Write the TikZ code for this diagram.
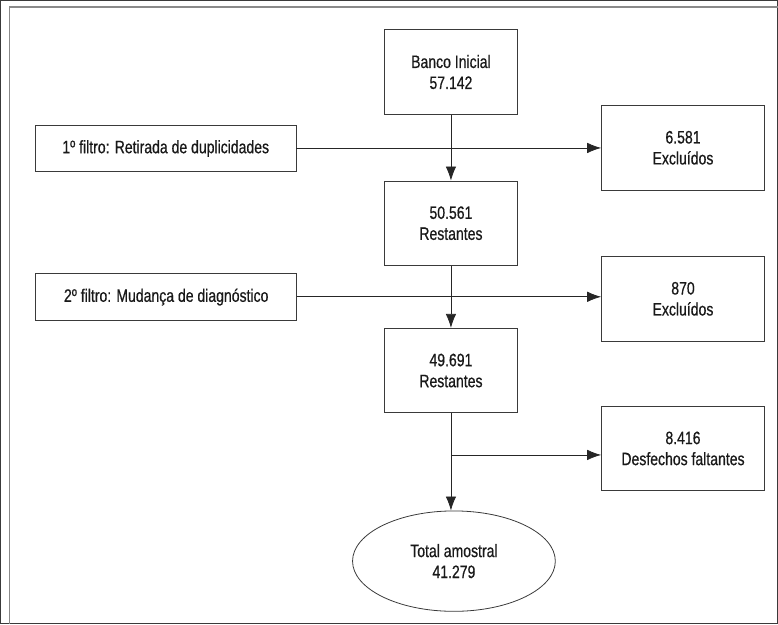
\documentclass[tikz,border=0pt]{standalone}
\usepackage{fontspec}
\setmainfont{Liberation Sans}[FakeStretch=0.78, FakeBold=0.6]
\usetikzlibrary{arrows.meta,shapes.geometric}
\definecolor{framegray}{HTML}{8A8A8A}
\definecolor{inkgray}{HTML}{3A3A3A}
\begin{document}
\begin{tikzpicture}[x=1pt, y=-1pt,
  every path/.style={draw=inkgray, line width=.8pt},
  every node/.style={font={\fontsize{18}{21}\selectfont}, text=black!90, align=center, inner sep=0pt},
  box/.style={draw=inkgray, rectangle, minimum width=133pt, minimum height=84.5pt},
  outbox/.style={draw=inkgray, rectangle, minimum width=163pt, minimum height=84.5pt},
  filterbox/.style={draw=inkgray, rectangle, minimum width=261pt, minimum height=46.5pt},
  flow/.style={-{Latex[length=14pt,width=10.5pt]}, draw=black!85}]
\useasboundingbox (0,0) rectangle (778,624);
\draw[framegray, line width=1.3pt] (9,624) -- (9,6.7) -- (778,6.7);
% main column
\node[box] (banco) at (451,71.7) {Banco Inicial\\57.142};
\node[box] (rest1) at (451,223) {50.561\\Restantes};
\node[box] (rest2) at (451,370.5) {49.691\\Restantes};
\node[draw=inkgray, ellipse, minimum width=203pt, minimum height=100.5pt] (total) at (454,561.3) {Total amostral\\41.279};
% filters and exclusions
\node[filterbox] (filtro1) at (165.5,148.3) {1º filtro: Retirada de duplicidades};
\node[filterbox] (filtro2) at (166,297) {2º filtro: Mudança de diagnóstico};
\node[outbox] (excl1) at (683.3,147.5) {6.581\\Excluídos};
\node[outbox] (excl2) at (683.3,298.7) {870\\Excluídos};
\node[outbox] (falt) at (683.3,448.5) {8.416\\Desfechos faltantes};
\coordinate (ramo) at (451,455);
% connectors
\draw[flow] (banco) -- (rest1);
\draw[flow] (rest1) -- (rest2);
\draw[flow] (rest2.south) -- (rest2.south |- total.north);
\draw[flow] (filtro1.east |- 0,147.7) -- (excl1.west |- 0,147.7);
\draw[flow] (filtro2.east |- 0,296.7) -- (excl2.west |- 0,296.7);
\draw[flow] (ramo) -- (ramo -| falt.west);
\end{tikzpicture}
\end{document}
